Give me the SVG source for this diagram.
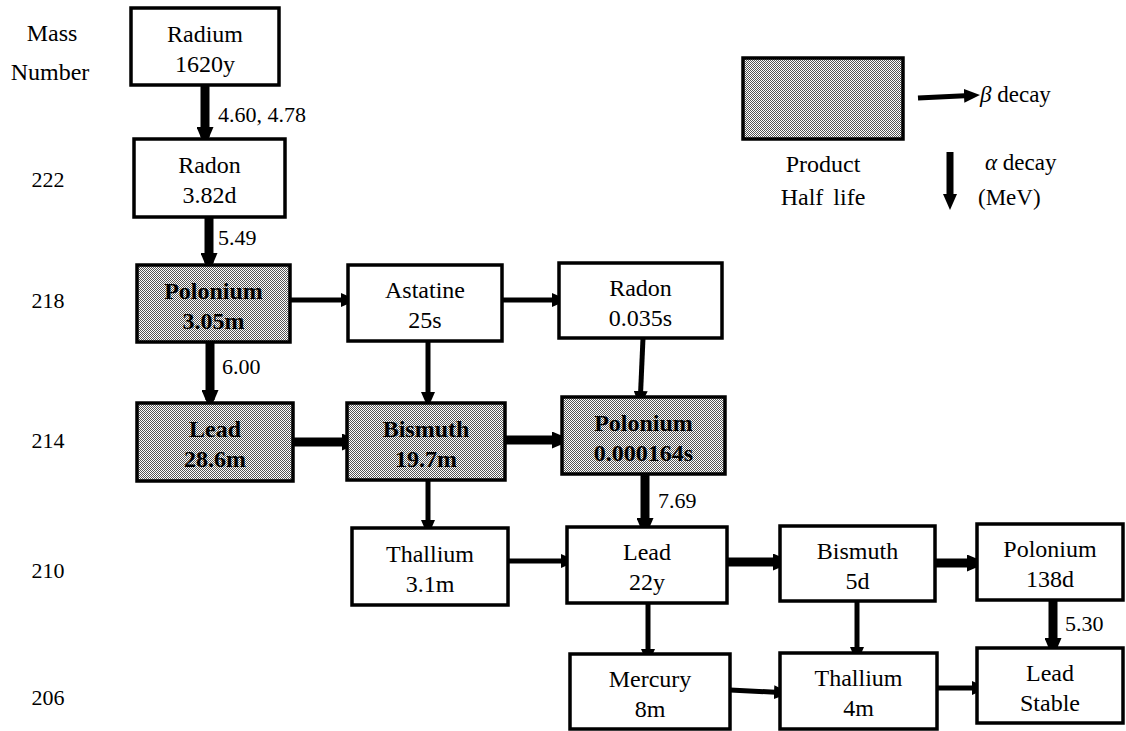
<svg xmlns="http://www.w3.org/2000/svg" width="1126" height="731" viewBox="0 0 1126 731" font-family="'Liberation Serif', 'DejaVu Serif', serif">
<style>
  text { font-family: 'Liberation Serif', 'DejaVu Serif', serif; fill: #000; }
  .nm { font-size: 24px; text-anchor: middle; }
  .sh { font-weight: bold; }
  .lbl { font-size: 22px; }
  .mn { font-size: 22px; text-anchor: middle; }
  .box { fill: #fff; stroke: #000; stroke-width: 3.5; }
  .shaded { fill: url(#dots); stroke: #000; stroke-width: 3.5; }
  .thick { stroke: #000; stroke-width: 9; fill: none; marker-end: url(#headL); }
  .thin { stroke: #000; stroke-width: 5; fill: none; marker-end: url(#headS); }
</style>
<defs>
  <pattern id="dots" width="2" height="2" patternUnits="userSpaceOnUse">
    <rect width="2" height="2" fill="#fff"/>
    <rect width="1" height="1" fill="#555"/>
    <rect x="1" y="1" width="1" height="1" fill="#555"/>
  </pattern>
  <marker id="headL" markerUnits="userSpaceOnUse" markerWidth="20" markerHeight="17" refX="10" refY="8.5" orient="auto">
    <path d="M0,0 L20,8.5 L0,17 z" fill="#000"/>
  </marker>
  <marker id="headS" markerUnits="userSpaceOnUse" markerWidth="16" markerHeight="14" refX="6" refY="7" orient="auto">
    <path d="M0,0 L16,7 L0,14 z" fill="#000"/>
  </marker>
</defs>
<rect width="1126" height="731" fill="#fff"/>

<g id="axis">
  <text class="nm" x="52" y="41">Mass</text>
  <text class="nm" x="50" y="80">Number</text>
  <text class="mn" x="48" y="187">222</text>
  <text class="mn" x="48" y="308">218</text>
  <text class="mn" x="48" y="448">214</text>
  <text class="mn" x="48" y="578">210</text>
  <text class="mn" x="48" y="705">206</text>
</g>

<g id="legend">
  <rect class="shaded" x="743" y="58" width="160" height="81"/>
  <text class="nm" x="823" y="172">Product</text>
  <text class="nm" x="823" y="205" style="word-spacing:4px">Half life</text>
  <line x1="918" y1="98" x2="970" y2="95.5" stroke="#000" stroke-width="5" marker-end="url(#headS)"/>
  <text class="lbl" x="980" y="102" style="font-size:23px"><tspan font-style="italic">β</tspan> decay</text>
  <line x1="950" y1="152" x2="950" y2="200" stroke="#000" stroke-width="7" marker-end="url(#headS)"/>
  <text class="lbl" x="985" y="170" style="font-size:23px"><tspan font-style="italic">α</tspan> decay</text>
  <text class="lbl" x="978" y="205" style="font-size:23px">(MeV)</text>
</g>

<g id="connectors">
  <line class="thick" x1="205" y1="85" x2="205" y2="137"/>
  <line class="thick" x1="209" y1="217" x2="209" y2="263"/>
  <line class="thick" x1="210" y1="342" x2="210" y2="400"/>
  <line class="thick" x1="645" y1="474" x2="645" y2="528"/>
  <line class="thick" x1="1053" y1="600" x2="1053" y2="648"/>
  <line class="thick" x1="293" y1="442" x2="352" y2="442"/>
  <line class="thick" x1="505" y1="440" x2="562" y2="440"/>
  <line class="thick" x1="727" y1="562" x2="783" y2="562"/>
  <line class="thick" x1="935" y1="563" x2="977" y2="563"/>
  <line class="thin" x1="290" y1="300" x2="347" y2="300"/>
  <line class="thin" x1="502" y1="300" x2="558" y2="300"/>
  <line class="thin" x1="428" y1="341" x2="428" y2="398"/>
  <line class="thin" x1="643" y1="338" x2="640.4" y2="397"/>
  <line class="thin" x1="428" y1="480" x2="428" y2="526"/>
  <line class="thin" x1="508" y1="561" x2="567" y2="561"/>
  <line class="thin" x1="648" y1="603" x2="648" y2="655"/>
  <line class="thin" x1="857" y1="601" x2="857" y2="653"/>
  <line class="thin" x1="730" y1="690" x2="780" y2="692.5"/>
  <line class="thin" x1="937" y1="688" x2="978" y2="688"/>
  <text class="lbl" x="218" y="122">4.60,  4.78</text>
  <text class="lbl" x="218" y="245">5.49</text>
  <text class="lbl" x="222" y="374">6.00</text>
  <text class="lbl" x="658" y="508">7.69</text>
  <text class="lbl" x="1065" y="631">5.30</text>
</g>

<g id="radium226">
  <rect class="box" x="131" y="8" width="148" height="77"/>
  <text class="nm" x="205" y="42">Radium</text>
  <text class="nm" x="205" y="72">1620y</text>
</g>
<g id="radon222">
  <rect class="box" x="134" y="139" width="151" height="78"/>
  <text class="nm" x="209.5" y="173">Radon</text>
  <text class="nm" x="209.5" y="203">3.82d</text>
</g>
<g id="polonium218">
  <rect class="shaded" x="137" y="265" width="153" height="77"/>
  <text class="nm sh" x="213.5" y="299">Polonium</text>
  <text class="nm sh" x="213.5" y="329">3.05m</text>
</g>
<g id="astatine218">
  <rect class="box" x="348" y="265" width="154" height="76"/>
  <text class="nm" x="425" y="298">Astatine</text>
  <text class="nm" x="425" y="328">25s</text>
</g>
<g id="radon218">
  <rect class="box" x="559" y="263" width="163" height="75"/>
  <text class="nm" x="640.5" y="296">Radon</text>
  <text class="nm" x="640.5" y="326">0.035s</text>
</g>
<g id="lead214">
  <rect class="shaded" x="137" y="403" width="156" height="78"/>
  <text class="nm sh" x="215" y="437">Lead</text>
  <text class="nm sh" x="215" y="467">28.6m</text>
</g>
<g id="bismuth214">
  <rect class="shaded" x="347" y="403" width="158" height="77"/>
  <text class="nm sh" x="426" y="437">Bismuth</text>
  <text class="nm sh" x="426" y="467">19.7m</text>
</g>
<g id="polonium214">
  <rect class="shaded" x="562" y="397" width="163" height="77"/>
  <text class="nm sh" x="643.5" y="431">Polonium</text>
  <text class="nm sh" x="643.5" y="461">0.000164s</text>
</g>
<g id="thallium210">
  <rect class="box" x="352" y="528" width="156" height="77"/>
  <text class="nm" x="430" y="562">Thallium</text>
  <text class="nm" x="430" y="592">3.1m</text>
</g>
<g id="lead210">
  <rect class="box" x="567" y="527" width="160" height="76"/>
  <text class="nm" x="647" y="560">Lead</text>
  <text class="nm" x="647" y="590">22y</text>
</g>
<g id="bismuth210">
  <rect class="box" x="780" y="526" width="155" height="75"/>
  <text class="nm" x="857.5" y="559">Bismuth</text>
  <text class="nm" x="857.5" y="589">5d</text>
</g>
<g id="polonium210">
  <rect class="box" x="977" y="524" width="146" height="76"/>
  <text class="nm" x="1050" y="557">Polonium</text>
  <text class="nm" x="1050" y="587">138d</text>
</g>
<g id="mercury206">
  <rect class="box" x="570" y="654" width="160" height="75"/>
  <text class="nm" x="650" y="687">Mercury</text>
  <text class="nm" x="650" y="717">8m</text>
</g>
<g id="thallium206">
  <rect class="box" x="780" y="653" width="157" height="76"/>
  <text class="nm" x="858.5" y="686">Thallium</text>
  <text class="nm" x="858.5" y="716">4m</text>
</g>
<g id="lead206">
  <rect class="box" x="977" y="648" width="146" height="75"/>
  <text class="nm" x="1050" y="681">Lead</text>
  <text class="nm" x="1050" y="711">Stable</text>
</g>
</svg>
